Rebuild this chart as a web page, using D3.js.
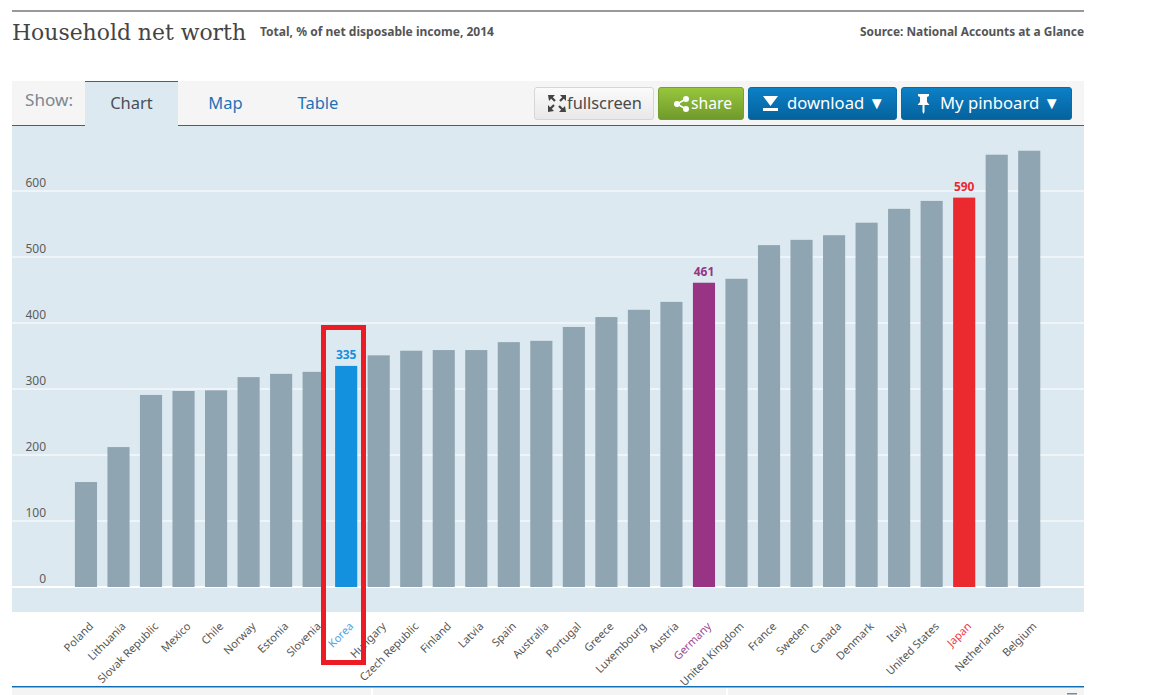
<!DOCTYPE html>
<html><head><meta charset="utf-8">
<script src="https://cdn.jsdelivr.net/npm/d3@7/dist/d3.min.js"></script>
<style>html,body{margin:0;padding:0;background:#fff;overflow:hidden}svg{display:block;font-family:"Noto Sans",sans-serif}</style>
</head><body><svg id="c" width="1152" height="695"></svg>
<script>
const categories=["Poland","Lithuania","Slovak Republic","Mexico","Chile","Norway","Estonia","Slovenia","Korea","Hungary","Czech Republic","Finland","Latvia","Spain","Australia","Portugal","Greece","Luxembourg","Austria","Germany","United Kingdom","France","Sweden","Canada","Denmark","Italy","United States","Japan","Netherlands","Belgium"];
const values=[159,212,291,297,298,318,323,326,335,351,358,359,359,371,373,394,409,420,432,461,467,518,526,533,552,573,585,590,655,661];
const yTicks=[0,100,200,300,400,500,600];
const highlighted=["Korea","Germany","Japan"];
const highlightBar=["#1390de","#993383","#eb2a30"];
const highlightText=["#4f9fe3","#a0488f","#ec3a48"];
const tabs=["Chart","Map","Table"];

const svg=d3.select("#c");
const hi=d3.scaleOrdinal().domain(highlighted).range(highlightBar).unknown("#8fa5b2");
const hiT=d3.scaleOrdinal().domain(highlighted).range(highlightText).unknown("#555");
const x=d3.scaleBand().domain(categories).range([69.7,1045.5]).paddingInner(0.32).paddingOuter(0.16);
const y=d3.scaleLinear().domain([0,600]).range([587,191]);
const R=(a,b,w,h,f)=>svg.append("rect").attr("x",a).attr("y",b).attr("width",w).attr("height",h).attr("fill",f);
const T=(a,b,s,size,fill,opt={})=>{const t=svg.append("text").attr("x",a).attr("y",b).attr("font-size",size).attr("fill",fill).text(s);
  for(const k in opt)t.attr(k,opt[k]);return t;};

// header
R(12,10,1072,2,"#999");
T(12,40,"Household net worth",23,"#444",{"font-family":"'DejaVu Serif',serif","textLength":234,"lengthAdjust":"spacingAndGlyphs"});
T(260,36,"Total, % of net disposable income, 2014",12,"#555",{"font-weight":700,"textLength":234,"lengthAdjust":"spacingAndGlyphs"});
T(1084,36,"Source: National Accounts at a Glance",12,"#555",{"font-weight":700,"text-anchor":"end","textLength":224,"lengthAdjust":"spacingAndGlyphs"});

// tab bar
R(12,81,1072,45,"#f5f5f5");
R(12,125,1072,1.2,"#1f6ca3");
R(85,81,93,45.5,"#dde9f1");
R(85,81,93,1,"#1f6ca3");
T(25,106,"Show:",17,"#7d8791",{"textLength":48,"lengthAdjust":"spacingAndGlyphs"});
const tabX=[131.5,225.5,318];
tabs.forEach((t,i)=>T(tabX[i],109,t,16.5,i?"#1f72b5":"#4a4f55",{"text-anchor":"middle"}));

// buttons
const defs=svg.append("defs");
const grad=(id,a,b)=>{const g=defs.append("linearGradient").attr("id",id).attr("x1",0).attr("y1",0).attr("x2",0).attr("y2",1);
 g.append("stop").attr("offset",0).attr("stop-color",a);g.append("stop").attr("offset",1).attr("stop-color",b);};
grad("gw","#fbfbfb","#e8e8e8");grad("gg","#98c63c","#6f9a2c");grad("gb","#0c80c6","#05629d");
const btn=(a,w,f,s)=>svg.append("rect").attr("x",a+.5).attr("y",87.5).attr("width",w).attr("height",32).attr("rx",2.5).attr("fill",f).attr("stroke",s);
btn(534,119,"url(#gw)","#d6d6d6");
btn(658,85,"url(#gg)","#76a02f");
btn(748,148,"url(#gb)","#0b6ba8");
btn(901,170,"url(#gb)","#0b6ba8");
T(567,109,"fullscreen",17,"#4a4a4a",{"textLength":75,"lengthAdjust":"spacingAndGlyphs"});
T(691,109,"share",17,"#fff",{"textLength":41,"lengthAdjust":"spacingAndGlyphs"});
T(787,109,"download ▼",17,"#fff",{"textLength":98,"lengthAdjust":"spacingAndGlyphs"});
T(940,109,"My pinboard ▼",17,"#fff",{"textLength":120,"lengthAdjust":"spacingAndGlyphs"});
// icons
svg.append("path").attr("fill","#444").attr("d","M548 95h7l-2.2 2.2 3 3-1.6 1.6-3-3L549 101zM566 95v6l-2.2-2.2-3 3-1.6-1.6 3-3L560 95zM548 112v-7l2.2 2.2 3-3 1.6 1.6-3 3 2.2 2.2zM566 112h-7l2.2-2.2-3-3 1.6-1.6 3 3 2.2-2.2z");
svg.append("path").attr("fill","#fff").attr("d","M763 96h15l-7.5 10zM763 108h15v3h-15z");
svg.append("path").attr("fill","#fff").attr("d","M918 94h11v2l-2 1v5l2.5 3h-5v7l-1 2-1-2v-7h-5l2.5-3v-5l-2-1z");
const sh=svg.append("g").attr("fill","none").attr("stroke","#fff");
sh.append("path").attr("stroke-width",1.6).attr("d","M686 99L677 104L686 109");
[[686,99],[677,104],[686,109]].forEach(p=>svg.append("circle").attr("cx",p[0]).attr("cy",p[1]).attr("r",3).attr("fill","#fff"));

// plot
R(12,126,1072,486,"#dde9f1");
svg.append("g").selectAll("line").data(yTicks).join("line")
 .attr("x1",12).attr("x2",1084).attr("y1",d=>y(d)).attr("y2",d=>y(d))
 .attr("stroke","#fff").attr("stroke-width",d=>d?1:2);
svg.append("g").selectAll("text").data(yTicks).join("text")
 .attr("x",46).attr("y",d=>y(d)-4).attr("text-anchor","end").attr("font-size",12).attr("fill","#5c5c5c").text(d=>d);
svg.append("g").selectAll("rect").data(categories).join("rect")
 .attr("x",d=>x(d)).attr("width",x.bandwidth())
 .attr("y",(d,i)=>y(values[i])).attr("height",(d,i)=>y(0)-y(values[i]))
 .attr("fill",d=>hi(d));
svg.append("g").selectAll("text").data(highlighted).join("text")
 .attr("x",d=>x(d)+x.bandwidth()/2).attr("y",d=>y(values[categories.indexOf(d)])-7)
 .attr("text-anchor","middle").attr("font-size",12).attr("font-weight",700).attr("fill",d=>hi(d)).text(d=>values[categories.indexOf(d)]);
svg.append("g").selectAll("text").data(categories).join("text")
 .attr("text-anchor","end").attr("font-size",11).attr("fill",d=>hiT(d))
 .attr("transform",d=>`translate(${x(d)+x.bandwidth()/2+8},${627}) rotate(-45)`).text(d=>d);

// annotation
svg.append("rect").attr("x",323.5).attr("y",327.5).attr("width",40).attr("height",335).attr("fill","none").attr("stroke","#ed1c24").attr("stroke-width",5);

// footer
R(12,686,1072,1.5,"#0f6fb8");
R(12,688,359,7,"#f4f4f4");R(373,688,353,7,"#f4f4f4");R(728,688,356,7,"#f4f4f4");
R(1067,693,10,1.5,"#7b8a99");
</script></body></html>
